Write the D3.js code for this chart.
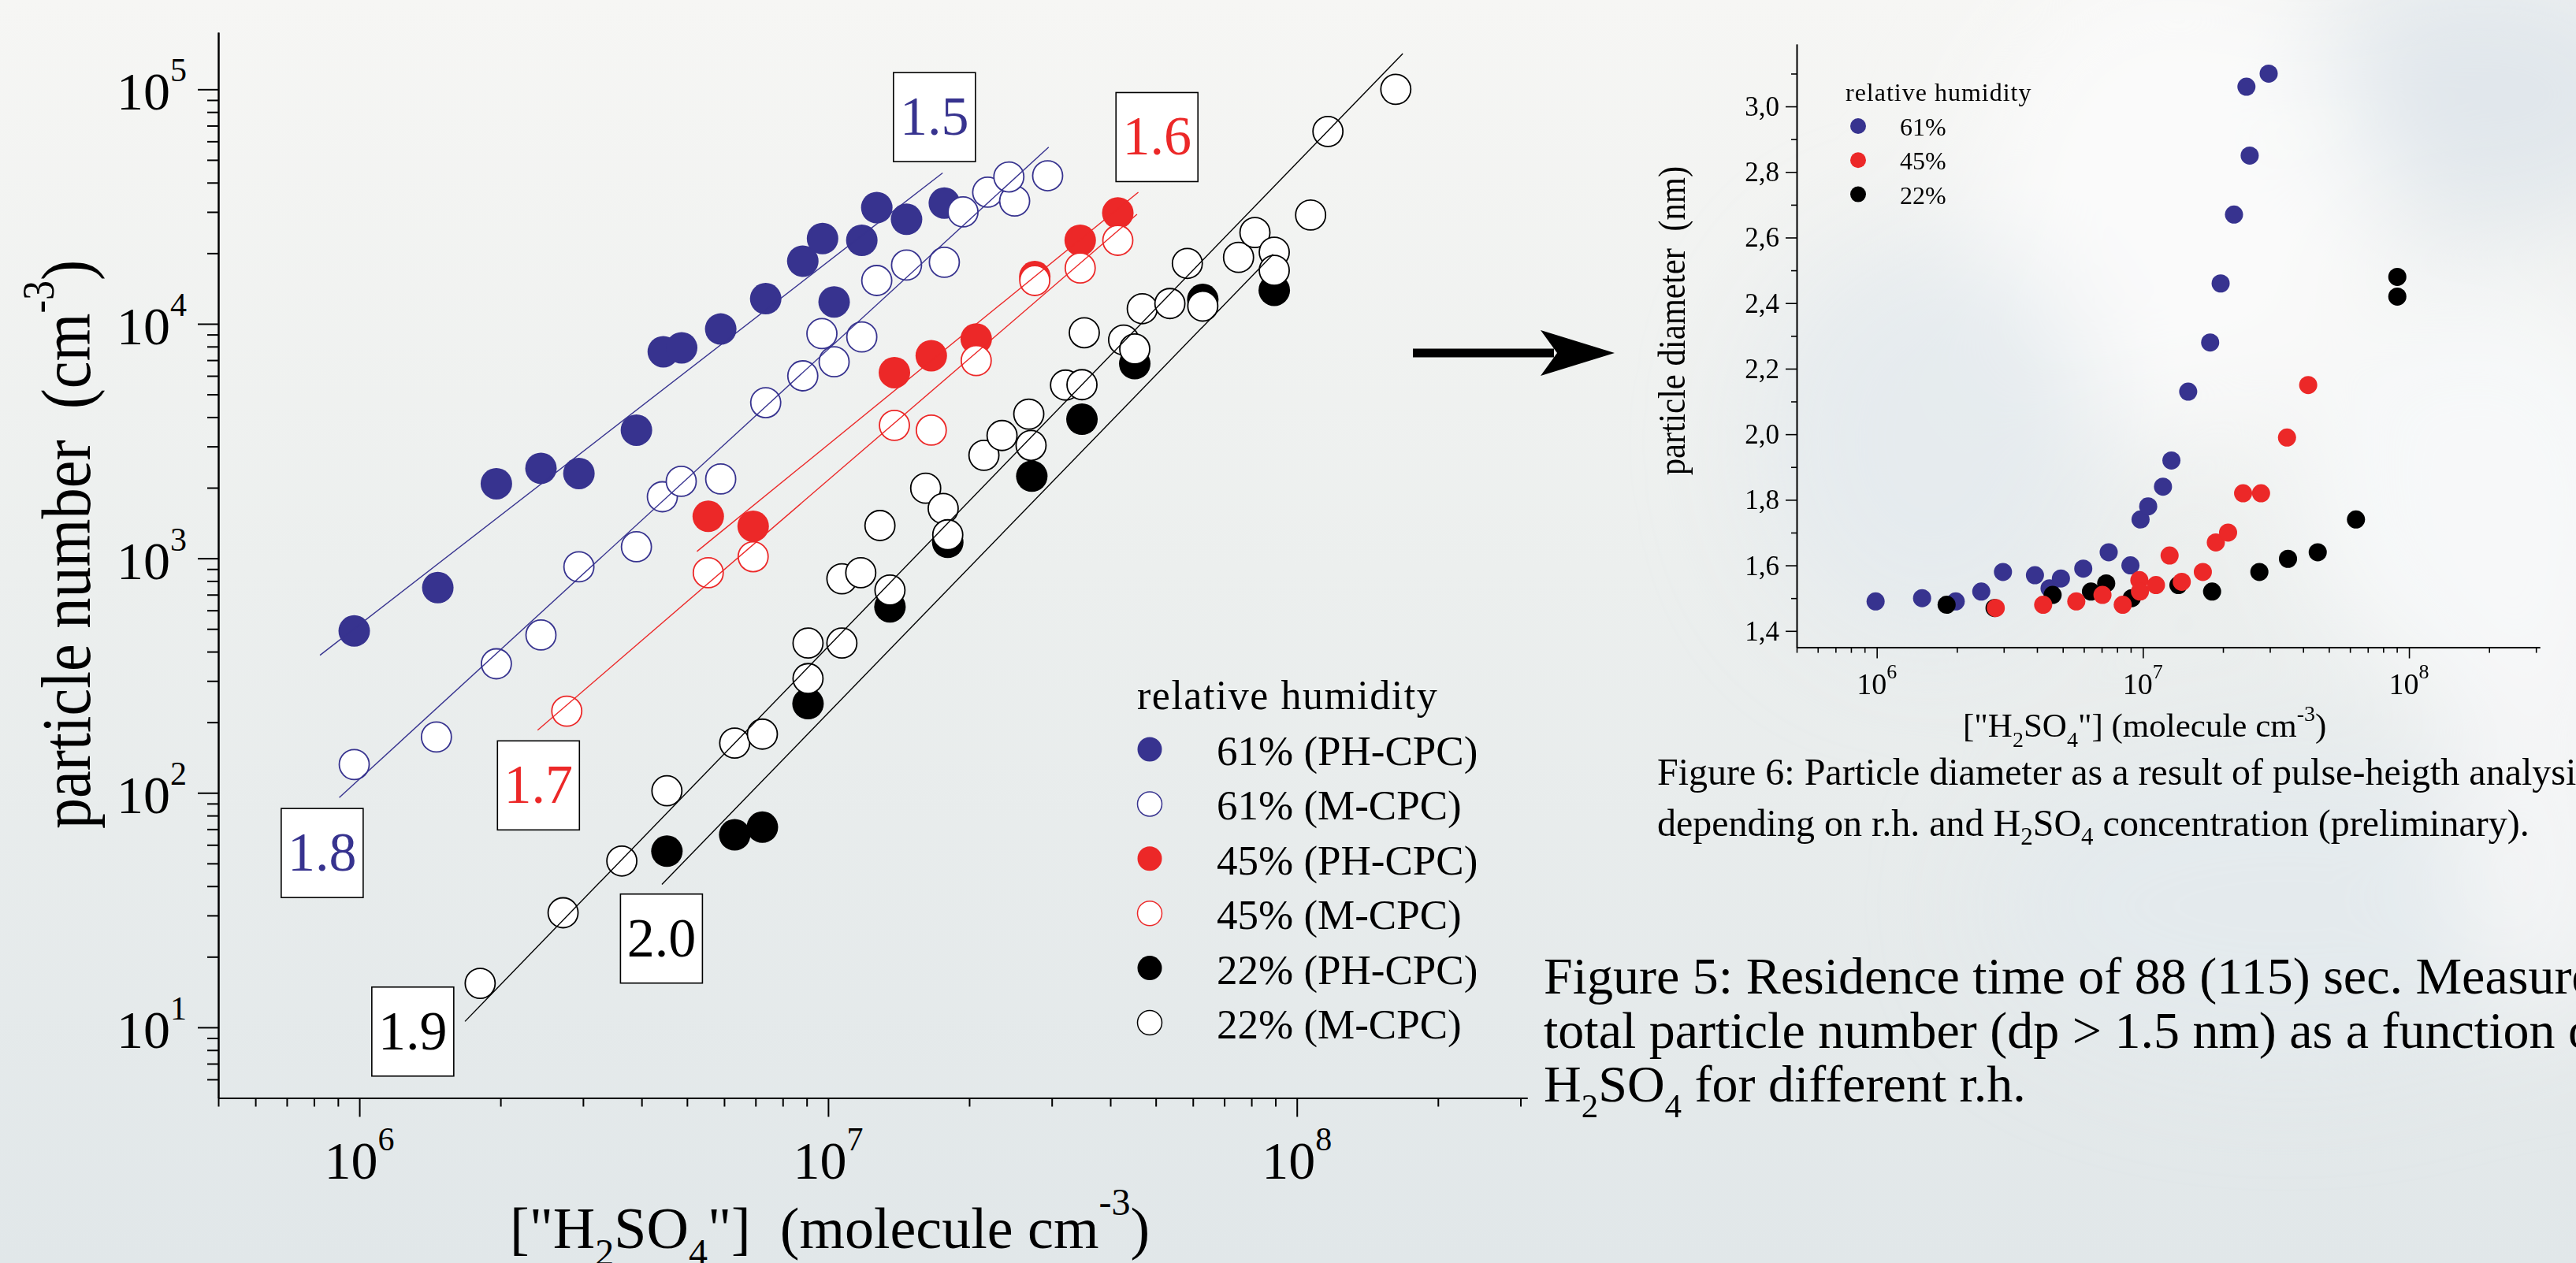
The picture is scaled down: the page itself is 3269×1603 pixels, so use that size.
<!DOCTYPE html>
<html>
<head>
<meta charset="utf-8">
<script src="https://cdn.jsdelivr.net/npm/d3@7"></script>
<style>
  html, body { margin: 0; padding: 0; background: #eceeee; overflow: hidden; }
  svg { display: block; }
  text { font-family: "Liberation Serif", "Times New Roman", serif; }
</style>
</head>
<body>
<div id="chart"></div>
<script>
////////////////////////////////////////////////////////////
//////////////////// Data (read off the poster) ////////////
////////////////////////////////////////////////////////////

// Figure 5: total particle number vs ["H2SO4"], [molecule cm-3, cm-3]
var rh61PH = [[9.75e5,490],[1.47e6,750],[1.96e6,2080],[2.44e6,2420],[2.94e6,2300],[3.90e6,3520],
  [4.45e6,7600],[4.87e6,7900],[5.90e6,9500],[7.36e6,12800],[8.83e6,18500],[9.73e6,23100],
  [1.03e7,12400],[1.18e7,22700],[1.27e7,31300],[1.47e7,27900],[1.77e7,32700]];
var rh61M = [[9.75e5,132],[1.46e6,173],[1.96e6,355],[2.44e6,471],[2.94e6,920],[3.90e6,1120],
  [4.43e6,1830],[4.86e6,2130],[5.90e6,2180],[7.36e6,4610],[8.83e6,6000],[9.70e6,9080],
  [1.03e7,6890],[1.18e7,8790],[1.27e7,15300],[1.47e7,17800],[1.77e7,18300],[1.94e7,30000],
  [2.19e7,36400],[2.50e7,33400],[2.43e7,42300],[2.94e7,42800]];
var rh45PH = [[5.55e6,1510],[6.92e6,1370],[1.385e7,6190],[1.66e7,7310],[2.07e7,8620],
  [2.76e7,15900],[3.45e7,22700],[4.15e7,29700]];
var rh45M = [[2.77e6,223],[5.55e6,868],[6.92e6,1016],[1.385e7,3690],[1.66e7,3520],[2.07e7,6970],
  [2.76e7,15300],[3.45e7,17300],[4.15e7,22700]];
var rh22PH = [[4.53e6,56.4],[6.32e6,66.2],[7.24e6,71.4],[9.06e6,240],[1.355e7,621],[1.80e7,1170],
  [2.72e7,2240],[3.48e7,3920],[4.51e7,6760],[6.30e7,12700],[8.95e7,13900]];
var rh22M = [[1.81e6,15.4],[2.72e6,30.8],[3.63e6,51.2],[4.53e6,102],[6.32e6,163],[7.24e6,178],
  [9.06e6,435],[9.06e6,307],[1.07e7,435],[1.07e7,818],[1.174e7,868],[1.355e7,732],[1.29e7,1380],
  [1.615e7,1990],[1.76e7,1630],[1.80e7,1260],[2.15e7,2750],[2.35e7,3340],[2.71e7,3030],
  [2.68e7,4120],[3.21e7,5480],[3.48e7,5500],[3.52e7,9160],[4.27e7,8530],[4.51e7,7810],
  [4.68e7,11600],[5.36e7,12200],[5.84e7,18100],[6.30e7,11900],[7.51e7,19200],[8.14e7,24500],
  [8.95e7,20200],[8.95e7,16900],[1.07e8,29100],[1.165e8,66100],[1.626e8,100000]];

// power-law fits: [start, end] in data units
var fitLines = [
  {c: "navy",  p: [[8.24e5,386],[1.755e7,44000]]},
  {c: "navy",  p: [[9.06e5,95.4],[2.955e7,56700]]},
  {c: "red",   p: [[5.25e6,1070],[4.59e7,36400]]},
  {c: "red",   p: [[2.40e6,185],[4.56e7,29300]]},
  {c: "black", p: [[1.68e6,10.6],[1.683e8,142000]]},
  {c: "black", p: [[4.42e6,40.7],[8.90e7,19800]]}
];
// slope annotations (box centre in data units)
var slopeLabels = [
  {t: "1.5", c: "navy",  at: [1.686e7,76400]},
  {t: "1.6", c: "red",   at: [5.03e7,62800]},
  {t: "1.8", c: "navy",  at: [8.33e5,55.6]},
  {t: "1.7", c: "red",   at: [2.41e6,108]},
  {t: "1.9", c: "black", at: [1.30e6,9.63]},
  {t: "2.0", c: "black", at: [4.41e6,24.0]}
];
var legendNames = ["61% (PH-CPC)", "61% (M-CPC)", "45% (PH-CPC)", "45% (M-CPC)", "22% (PH-CPC)", "22% (M-CPC)"];

// Figure 6: particle diameter (nm) vs ["H2SO4"]
var dia61 = [[9.9e5,1.49],[1.48e6,1.50],[1.98e6,1.49],[2.47e6,1.52],[2.98e6,1.58],[3.93e6,1.57],
  [4.46e6,1.53],[4.92e6,1.56],[5.97e6,1.59],[7.44e6,1.64],[8.98e6,1.60],[9.8e6,1.74],
  [1.047e7,1.78],[1.19e7,1.84],[1.28e7,1.92],[1.48e7,2.13],[1.79e7,2.28],[1.96e7,2.46],
  [2.20e7,2.67],[2.52e7,2.85],[2.45e7,3.06],[2.97e7,3.10]];
var dia45 = [[2.80e6,1.47],[4.22e6,1.48],[5.62e6,1.49],[7.05e6,1.51],[8.40e6,1.48],[9.70e6,1.555],
  [9.75e6,1.52],[1.12e7,1.54],[1.40e7,1.55],[1.26e7,1.63],[1.68e7,1.58],[1.88e7,1.67],
  [2.09e7,1.70],[2.38e7,1.82],[2.78e7,1.82],[3.48e7,1.99],[4.18e7,2.15]];
var dia22 = [[1.83e6,1.48],[2.77e6,1.47],[4.58e6,1.51],[6.38e6,1.52],[7.28e6,1.545],[9.08e6,1.50],
  [1.36e7,1.54],[1.82e7,1.52],[2.74e7,1.58],[3.51e7,1.62],[4.54e7,1.64],[6.32e7,1.74],
  [9.04e7,2.48],[9.04e7,2.42]];
var diaLegend = ["61%", "45%", "22%"];

// ticks
var xMajor = [1e6, 1e7, 1e8];
var xMajorExp = ["6", "7", "8"];
var xMinor = [5e5,6e5,7e5,8e5,9e5, 2e6,3e6,4e6,5e6,6e6,7e6,8e6,9e6,
              2e7,3e7,4e7,5e7,6e7,7e7,8e7,9e7, 2e8,3e8];
var yMajor = [10, 100, 1e3, 1e4, 1e5];
var yMajorExp = ["1", "2", "3", "4", "5"];
var yMinor = [6,7,8,9, 20,30,40,50,60,70,80,90, 200,300,400,500,600,700,800,900,
              2e3,3e3,4e3,5e3,6e3,7e3,8e3,9e3, 2e4,3e4,4e4,5e4,6e4,7e4,8e4,9e4];
var dMajor = [1.4, 1.6, 1.8, 2.0, 2.2, 2.4, 2.6, 2.8, 3.0];
var dMajorLabels = ["1,4", "1,6", "1,8", "2,0", "2,2", "2,4", "2,6", "2,8", "3,0"];
var dMinor = [1.5, 1.7, 1.9, 2.1, 2.3, 2.5, 2.7, 2.9, 3.1];

////////////////////////////////////////////////////////////
//////////////////// Setup /////////////////////////////////
////////////////////////////////////////////////////////////
var W = 3269, H = 1603;
var col = {navy: "#37338f", red: "#ec2828", black: "#000000"};

var svg = d3.select("#chart").append("svg")
    .attr("width", W).attr("height", H);

var defs = svg.append("defs");
var bg = defs.append("linearGradient").attr("id", "bg")
    .attr("x1", 0).attr("y1", 0).attr("x2", 0).attr("y2", 1);
bg.append("stop").attr("offset", 0).attr("stop-color", "#f6f6f4");
bg.append("stop").attr("offset", 0.45).attr("stop-color", "#ecefee");
bg.append("stop").attr("offset", 1).attr("stop-color", "#e1e7e9");
defs.append("filter").attr("id", "blur").attr("x", "-50%").attr("y", "-50%")
    .attr("width", "200%").attr("height", "200%")
  .append("feGaussianBlur").attr("stdDeviation", 70);

svg.append("rect").attr("width", W).attr("height", H).attr("fill", "url(#bg)");
// soft clouds on the right
var clouds = svg.append("g").attr("filter", "url(#blur)");
clouds.append("ellipse").attr("cx", 3150).attr("cy", 120).attr("rx", 260).attr("ry", 170)
    .attr("fill", "#dfe6eb").attr("opacity", 0.9);
clouds.append("ellipse").attr("cx", 2760).attr("cy", 260).attr("rx", 260).attr("ry", 300)
    .attr("fill", "#fbfbfb").attr("opacity", 0.9);
clouds.append("ellipse").attr("cx", 3150).attr("cy", 620).attr("rx", 240).attr("ry", 260)
    .attr("fill", "#f7f8f9").attr("opacity", 0.9);
clouds.append("ellipse").attr("cx", 2450).attr("cy", 560).attr("rx", 220).attr("ry", 260)
    .attr("fill", "#e4eaee").attr("opacity", 0.8);
clouds.append("ellipse").attr("cx", 2900).attr("cy", 1150).attr("rx", 380).attr("ry", 200)
    .attr("fill", "#e3eaee").attr("opacity", 0.7);
clouds.append("ellipse").attr("cx", 3230).attr("cy", 1000).attr("rx", 120).attr("ry", 300)
    .attr("fill", "#f7f8f9").attr("opacity", 0.8);

// text with super/subscripts: segs = [[string, ""|"sup"|"sub"], ...]
function rich(textSel, segs, size, small, rise, drop) {
  var offset = 0;
  segs.forEach(function(s) {
    var target = s[1] === "sup" ? -rise : s[1] === "sub" ? drop : 0;
    textSel.append("tspan")
        .attr("dy", target - offset)
        .attr("font-size", s[1] ? small : size)
        .text(s[0]);
    offset = target;
  });
  return textSel;
}

function styleAxis(g, w) {
  g.select(".domain").attr("stroke", "#000").attr("stroke-width", w);
  g.selectAll(".tick line").attr("stroke", "#000").attr("stroke-width", w);
}

////////////////////////////////////////////////////////////
//////////////////// Figure 5 (left) ///////////////////////
////////////////////////////////////////////////////////////
var x = d3.scaleLog().domain([5e5, 3.1e8]).range([277, 1938]);
var y = d3.scaleLog().domain([5, 1.75e5]).range([1393.5, 41]);
var left = svg.append("g");

var gxMin = left.append("g").attr("transform", "translate(0," + y.range()[0] + ")")
    .call(d3.axisBottom(x).tickValues(xMinor).tickSize(11).tickSizeOuter(0).tickFormat(""));
styleAxis(gxMin, 2);
var gxMaj = left.append("g").attr("transform", "translate(0," + y.range()[0] + ")")
    .call(d3.axisBottom(x).tickValues(xMajor).tickSize(24).tickSizeOuter(0).tickFormat(""));
styleAxis(gxMaj, 2);
var gyMin = left.append("g").attr("transform", "translate(" + x.range()[0] + ",0)")
    .call(d3.axisLeft(y).tickValues(yMinor).tickSize(14).tickSizeOuter(0).tickFormat(""));
styleAxis(gyMin, 2);
var gyMaj = left.append("g").attr("transform", "translate(" + x.range()[0] + ",0)")
    .call(d3.axisLeft(y).tickValues(yMajor).tickSize(26).tickSizeOuter(0).tickFormat(""));
styleAxis(gyMaj, 2);

xMajor.forEach(function(v, i) {
  rich(left.append("text").attr("x", x(v)).attr("y", 1496).attr("text-anchor", "middle"),
       [["10", ""], [xMajorExp[i], "sup"]], 68, 42, 36, 0);
});
yMajor.forEach(function(v, i) {
  rich(left.append("text").attr("x", 237).attr("y", y(v) + 26).attr("text-anchor", "end"),
       [["10", ""], [yMajorExp[i], "sup"]], 68, 42, 36, 0);
});

// axis titles
rich(left.append("text").attr("x", 647).attr("y", 1584),
     [["[\"H", ""], ["2", "sub"], ["SO", ""], ["4", "sub"], ["\"]\u00a0\u00a0(molecule cm", ""],
      ["-3", "sup"], [")", ""]], 74, 48, 42, 22);
rich(left.append("text").attr("text-anchor", "middle")
       .attr("transform", "translate(114,691) rotate(-90) scale(0.89,1)"),
     [["particle number\u00a0\u00a0(cm", ""], ["-3", "sup"], [")", ""]], 88, 56, 46, 0);

// markers: filled first, open on top
var series = [
  {d: rh61PH, c: col.navy,  open: false},
  {d: rh45PH, c: col.red,   open: false},
  {d: rh22PH, c: col.black, open: false},
  {d: rh61M,  c: col.navy,  open: true},
  {d: rh45M,  c: col.red,   open: true},
  {d: rh22M,  c: col.black, open: true}
];
series.forEach(function(s) {
  left.append("g").selectAll("circle")
    .data(s.d)
    .enter().append("circle")
      .attr("cx", function(d) { return x(d[0]); })
      .attr("cy", function(d) { return y(d[1]); })
      .attr("r", s.open ? 19 : 20)
      .attr("fill", s.open ? "#fff" : s.c)
      .attr("stroke", s.open ? s.c : "none")
      .attr("stroke-width", 1.8);
});

var line = d3.line().x(function(d) { return x(d[0]); }).y(function(d) { return y(d[1]); });
left.append("g").selectAll("path")
  .data(fitLines)
  .enter().append("path")
    .attr("d", function(d) { return line(d.p); })
    .attr("fill", "none")
    .attr("stroke", function(d) { return col[d.c]; })
    .attr("stroke-width", 1.4);

var sl = left.append("g").selectAll("g")
  .data(slopeLabels)
  .enter().append("g")
    .attr("transform", function(d) { return "translate(" + x(d.at[0]) + "," + y(d.at[1]) + ")"; });
sl.append("rect").attr("x", -52).attr("y", -56).attr("width", 104).attr("height", 113)
    .attr("fill", "#fff").attr("stroke", "#000").attr("stroke-width", 1.6);
sl.append("text").attr("text-anchor", "middle").attr("y", 23)
    .attr("font-size", 70)
    .attr("fill", function(d) { return col[d.c]; })
    .text(function(d) { return d.t; });

// legend
var lg = left.append("g");
lg.append("text").attr("x", 1443).attr("y", 900).attr("font-size", 52)
    .attr("letter-spacing", 1.5).text("relative humidity");
var lgRow = lg.selectAll("g.row")
  .data([0, 3, 1, 4, 2, 5].map(function(k) { return series[k]; }))
  .enter().append("g")
    .attr("transform", function(d, i) { return "translate(0," + (951 + i * 69.4) + ")"; });
lgRow.append("circle").attr("cx", 1459).attr("r", 15.5)
    .attr("fill", function(d) { return d.open ? "#fff" : d.c; })
    .attr("stroke", function(d) { return d.open ? d.c : "none"; })
    .attr("stroke-width", 1.5);
lgRow.append("text").attr("x", 1544).attr("y", 20).attr("font-size", 53)
    .text(function(d, i) { return legendNames[i]; });

////////////////////////////////////////////////////////////
//////////////////// Arrow /////////////////////////////////
////////////////////////////////////////////////////////////
svg.append("path")
    .attr("d", "M1793,442.5 L1972,442.5 L1972,453.5 L1793,453.5 Z M1955,419 L2049,448 L1955,477 L1976,448 Z")
    .attr("fill", "#000");

////////////////////////////////////////////////////////////
//////////////////// Figure 6 (right) //////////////////////
////////////////////////////////////////////////////////////
var x2 = d3.scaleLog().domain([5e5, 3.1e8]).range([2280, 3223]);
var y2 = d3.scaleLinear().domain([1.35, 3.19]).range([821.6, 56]);
var right = svg.append("g");

var g2xMin = right.append("g").attr("transform", "translate(0," + y2.range()[0] + ")")
    .call(d3.axisBottom(x2).tickValues(xMinor).tickSize(7).tickSizeOuter(0).tickFormat(""));
styleAxis(g2xMin, 1.6);
var g2xMaj = right.append("g").attr("transform", "translate(0," + y2.range()[0] + ")")
    .call(d3.axisBottom(x2).tickValues(xMajor).tickSize(14).tickSizeOuter(0).tickFormat(""));
styleAxis(g2xMaj, 1.6);
var g2yMin = right.append("g").attr("transform", "translate(" + x2.range()[0] + ",0)")
    .call(d3.axisLeft(y2).tickValues(dMinor).tickSize(7).tickSizeOuter(0).tickFormat(""));
styleAxis(g2yMin, 1.6);
var g2yMaj = right.append("g").attr("transform", "translate(" + x2.range()[0] + ",0)")
    .call(d3.axisLeft(y2).tickValues(dMajor).tickSize(14).tickSizeOuter(0).tickFormat(""));
styleAxis(g2yMaj, 1.6);

xMajor.forEach(function(v, i) {
  rich(right.append("text").attr("x", x2(v)).attr("y", 881).attr("text-anchor", "middle"),
       [["10", ""], [xMajorExp[i], "sup"]], 38, 26, 20, 0);
});
dMajor.forEach(function(v, i) {
  right.append("text").attr("x", 2258).attr("y", y2(v) + 12).attr("text-anchor", "end")
      .attr("font-size", 35).text(dMajorLabels[i]);
});

rich(right.append("text").attr("x", 2491).attr("y", 935),
     [["[\"H", ""], ["2", "sub"], ["SO", ""], ["4", "sub"], ["\"] (molecule cm", ""],
      ["-3", "sup"], [")", ""]], 43, 28, 20, 13);
right.append("text").attr("text-anchor", "middle")
    .attr("transform", "translate(2138,407) rotate(-90) scale(0.89,1)")
    .attr("font-size", 48).text("particle diameter\u00a0\u00a0(nm)");

var series2 = [
  {d: dia61, c: col.navy},
  {d: dia22, c: col.black},
  {d: dia45, c: col.red}
];
series2.forEach(function(s) {
  right.append("g").selectAll("circle")
    .data(s.d)
    .enter().append("circle")
      .attr("cx", function(d) { return x2(d[0]); })
      .attr("cy", function(d) { return y2(d[1]); })
      .attr("r", 11.5)
      .attr("fill", s.c);
});

var lg2 = right.append("g");
lg2.append("text").attr("x", 2342).attr("y", 128).attr("font-size", 32)
    .attr("letter-spacing", 1).text("relative humidity");
[col.navy, col.red, col.black].forEach(function(c, i) {
  var cy = 160 + i * 43.3;
  lg2.append("circle").attr("cx", 2358).attr("cy", cy).attr("r", 10).attr("fill", c);
  lg2.append("text").attr("x", 2411).attr("y", cy + 12).attr("font-size", 32).text(diaLegend[i]);
});

////////////////////////////////////////////////////////////
//////////////////// Captions //////////////////////////////
////////////////////////////////////////////////////////////
svg.append("text").attr("x", 2103).attr("y", 996).attr("font-size", 48)
    .text("Figure 6: Particle diameter as a result of pulse-heigth analysis");
rich(svg.append("text").attr("x", 2103).attr("y", 1061),
     [["depending on r.h. and H", ""], ["2", "sub"], ["SO", ""], ["4", "sub"],
      [" concentration (preliminary).", ""]], 48, 31, 0, 11);

svg.append("text").attr("x", 1959).attr("y", 1261).attr("font-size", 66)
    .text("Figure 5: Residence time of 88 (115) sec. Measured");
svg.append("text").attr("x", 1959).attr("y", 1330).attr("font-size", 66)
    .text("total particle number (dp > 1.5 nm) as a function of");
rich(svg.append("text").attr("x", 1959).attr("y", 1398),
     [["H", ""], ["2", "sub"], ["SO", ""], ["4", "sub"], [" for different r.h.", ""]], 66, 43, 0, 20);
</script>
</body>
</html>
